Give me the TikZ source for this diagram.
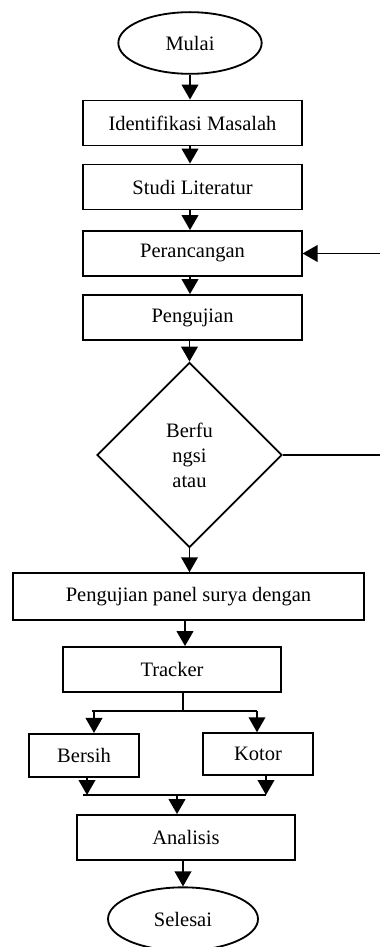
\documentclass[tikz,border=0pt]{standalone}
\usepackage{fontspec}
\setmainfont{Liberation Serif}
\usetikzlibrary{arrows.meta,shapes.geometric}
\begin{document}
\begin{tikzpicture}[x=0.6pt,y=-0.6pt,line width=1.1pt,>={Triangle[width=10pt,length=9pt]},
    font=\fontsize{12.3}{15}\selectfont,
    proses/.style={draw,rectangle,inner sep=0pt,minimum height=27pt},
    terminal/.style={draw,ellipse,inner sep=0pt},
    keputusan/.style={draw,diamond,inner sep=0pt,minimum width=111pt,minimum height=111pt,align=center}]
    \useasboundingbox (0,0) rectangle (380,947);
    % node
    \node [terminal,minimum width=86pt,minimum height=37pt] (mulai) at (190,43) {Mulai};
    \node [proses,minimum width=131pt] (idm) at (192.5,123) {Identifikasi Masalah};
    \node [proses,minimum width=131pt] (studi) at (192.5,187) {Studi Literatur};
    \node [proses,minimum width=131pt] (rancang) at (192.5,253.5) {Perancangan};
    \node [proses,minimum width=131pt] (uji) at (192.5,317.5) {Pengujian};
    \node [keputusan] (fungsi) at (189.5,455) {Berfu\\ngsi\\atau};
    \node [proses,minimum width=210.5pt,minimum height=28pt] (panel) at (188.5,596.5) {Pengujian panel surya dengan};
    \node [proses,minimum width=131pt] (tracker) at (172,669.5) {Tracker};
    \node [proses,minimum width=66pt,minimum height=26pt] (bersih) at (84,755.5) {Bersih};
    \node [proses,minimum width=66pt,minimum height=25pt] (kotor) at (258,754) {Kotor};
    \node [proses,minimum width=131pt] (analisis) at (186,837.5) {Analisis};
    \node [terminal,minimum width=90pt,minimum height=38pt] (selesai) at (183,919) {Selesai};
    % titik bantu
    \coordinate (kanan1) at (380,455);
    \coordinate (kanan2) at (380,253.5);
    \coordinate (bagi) at (183,711);
    \coordinate (bagiL) at (92,711);
    \coordinate (bagiR) at (257,711);
    \coordinate (gabung) at (177,795);
    \coordinate (gabungL) at (83,795);
    \coordinate (gabungR) at (266,795);
    % panah
    \draw [->] (mulai.south) -- (mulai.south |- idm.north);
    \draw [->] (idm.south -| mulai) -- (studi.north -| mulai);
    \draw [->] (studi.south -| mulai) -- (rancang.north -| mulai);
    \draw [->] (rancang.south -| mulai) -- (uji.north -| mulai);
    \draw [->] (uji.south -| fungsi) -- (fungsi.north);
    \draw (fungsi.east) -- (kanan1);
    \draw [->] (kanan2) -- (rancang.east);
    \draw [->] (fungsi.south) -- (panel.north -| fungsi);
    \draw [->] (panel.south -| 185,0) -- (tracker.north -| 185,0);
    \draw (tracker.south -| bagi) -- (bagi);
    \draw (bagiL) -- (bagiR);
    \draw [->] (bagiL -| 94,0) -- (bersih.north -| 94,0);
    \draw [->] (bagiR) -- (kotor.north -| bagiR);
    \draw [->] (bersih.south -| 87,0) -- (gabungL -| 87,0);
    \draw [->] (kotor.south -| gabungR) -- (gabungR);
    \draw (gabungL) -- (gabungR);
    \draw [->] (gabung) -- (analisis.north -| gabung);
    \draw [->] (analisis.south -| selesai) -- (selesai.north);
\end{tikzpicture}
\end{document}
